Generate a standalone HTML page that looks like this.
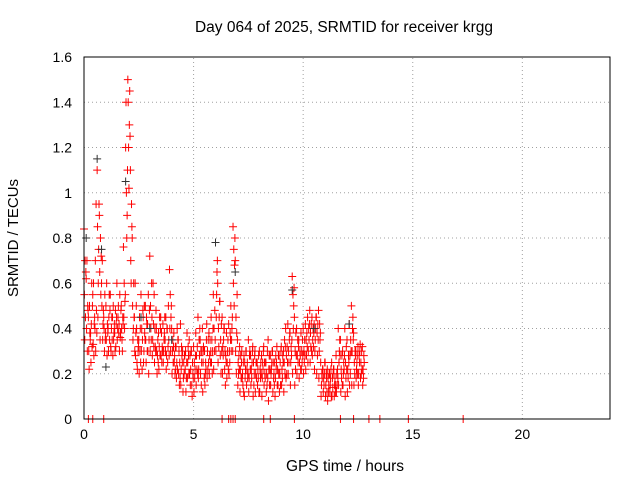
<!DOCTYPE html>
<html><head><meta charset="utf-8"><style>
body{margin:0;background:#fff;}
svg{display:block;font-family:"Liberation Sans",sans-serif;}
</style></head><body>
<svg id="chart" width="640" height="480">
<text x="344" y="32" text-anchor="middle" font-size="15.5">Day 064 of 2025, SRMTID for receiver krgg</text>
<text x="345" y="471" text-anchor="middle" font-size="15.5">GPS time / hours</text>
<text transform="translate(18,238) rotate(-90)" text-anchor="middle" font-size="15">SRMTID / TECUs</text>
<g id="grid"></g><g id="ticks"></g><g id="marks"></g>
<rect x="84" y="57" width="526" height="362" fill="none" stroke="#000"/>
</svg>
<script>
const xTicks=[0,5,10,15,20];
const yTicks=[0,0.2,0.4,0.6,0.8,1,1.2,1.4,1.6];
const yTickLabels=["0","0.2","0.4","0.6","0.8","1","1.2","1.4","1.6"];
const v1=[.84,.62,.45,.38,.55,.40,1.10,.90,.60,.45,.50,.40,.55,.45,.38,.60,.42,.50,.76,1.20,1.50,1.25,.80,.45,.40,.35,.55,.45,.50,.42,.72,.45,.55,.40,.38,.45,.42,.35,.40,.66,.40,.38,.32,.35,.42,.30,.28,.38,.35,.30,.32,.38,.45,.35,.40,.30,.42,.38,.45,.55,.78,.60,.52,.45,.40,.38,.42,.50,.85,.70,.35,.32,.30,.28,.30,.35,.28,.32,.30,.25,.30,.28,.32,.25,.35,.28,.30,.25,.32,.28,.32,.30,.40,.42,.38,.63,.45,.40,.35,.38,.40,.42,.45,.48,.45,.42,.45,.48,.25,.22,.25,.22,.20,.25,.22,.28,.40,.35,.30,.40,.35,.42,.50,.38,.30,.32,.33,.32];
const v2=[.55,.40,.30,.25,.33,.70,.85,.65,.50,.40,.35,.30,.32,.28,.30,.35,.30,.40,.45,1.40,1.40,1.10,.50,.30,.25,.20,.30,.25,.35,.30,.30,.28,.25,.30,.22,.28,.25,.30,.25,.40,.20,.25,.18,.20,.15,.12,.22,.18,.20,.15,.12,.15,.18,.20,.12,.15,.18,.20,.25,.22,.30,.25,.28,.20,.22,.18,.20,.30,.60,.30,.15,.12,.18,.10,.15,.12,.15,.10,.12,.15,.12,.10,.15,.12,.08,.15,.12,.10,.15,.12,.15,.12,.18,.20,.15,.20,.15,.20,.18,.22,.20,.22,.25,.25,.28,.22,.20,.18,.10,.12,.10,.08,.12,.10,.10,.12,.15,.12,.15,.10,.12,.15,.15,.15,.18,.15,.18,.15];
const v3=[.35,.70,.22,.42,.60,.30,.45,.35,.70,.30,.60,.45,.30,.50,.48,.40,.55,.35,.60,1.00,1.20,.70,.35,.60,.22,.45,.40,.30,.25,.55,.50,.35,.40,.20,.32,.38,.30,.45,.32,.55,.30,.28,.25,.30,.22,.18,.30,.25,.28,.10,.25,.28,.22,.30,.25,.20,.30,.28,.35,.40,.45,.40,.35,.32,.30,.25,.30,.35,.75,.45,.25,.22,.20,.25,.22,.18,.22,.25,.20,.22,.22,.18,.25,.20,.22,.20,.25,.18,.22,.20,.22,.25,.28,.30,.25,.55,.30,.28,.25,.30,.30,.35,.30,.38,.35,.30,.38,.30,.15,.18,.15,.18,.15,.18,.15,.20,.25,.22,.20,.25,.22,.28,.30,.25,.22,.20,.25,.22];
const v4=[.70,.30,.50,.60,.28,.95,.60,.80,.35,.55,.28,.55,.40,.35,.32,.45,.36,.30,.40,.80,1.02,.60,.40,.28,.35,.30,.22,.50,.45,.20,.40,.60,.32,.28,.45,.25,.35,.22,.50,.30,.35,.20,.40,.15,.32,.25,.12,.32,.15,.25,.18,.22,.35,.15,.32,.25,.22,.35,.20,.30,.55,.32,.20,.28,.15,.30,.25,.40,.50,.20,.20,.28,.15,.18,.25,.28,.18,.15,.25,.18,.18,.25,.20,.15,.28,.22,.18,.28,.15,.25,.18,.35,.20,.25,.32,.40,.22,.35,.30,.25,.25,.28,.40,.32,.40,.35,.28,.42,.20,.15,.20,.12,.18,.14,.18,.15,.30,.18,.25,.18,.18,.20,.40,.20,.25,.28,.20,.18];
const v5=[.45,.50,.38,.32,.42,.48,.75,.55,.42,.35,.42,.35,.45,.38,.42,.50,.38,.45,.52,.90,1.30,.95,.60,.38,.30,.40,.35,.38,.42,.35,.35,.42,.30,.35,.28,.32,.38,.28,.35,.45,.25,.32,.22,.25,.28,.20,.18,.28,.22,.20,.22,.32,.28,.25,.30,.22,.35,.25,.30,.48,.65,.45,.42,.35,.28,.35,.38,.45,.68,.38,.28,.18,.25,.22,.18,.30,.25,.20,.18,.28,.25,.22,.18,.30,.15,.25,.20,.22,.28,.15,.28,.20,.32,.35,.28,.50,.38,.25,.28,.35,.35,.38,.35,.42,.32,.40,.42,.35,.18,.20,.18,.15,.22,.20,.12,.22,.35,.28,.22,.32,.28,.35,.45,.30,.28,.25,.30,.28];
const v6=[.65,.48,.35,.50,.45,.38,.95,.72,.48,.38,.38,.48,.35,.42,.45,.38,.48,.42,.55,1.10,1.45,.85,.45,.50,.32,.25,.48,.35,.30,.48,.60,.32,.48,.25,.40,.30,.45,.40,.28,.50,.32,.22,.35,.18,.25,.28,.25,.20,.30,.18,.28,.20,.40,.30,.18,.35,.25,.30,.40,.35,.70,.52,.30,.40,.25,.22,.35,.30,.80,.55,.22,.25,.12,.30,.20,.22,.30,.28,.25,.12,.20,.30,.25,.18,.22,.30,.15,.25,.20,.30,.25,.32,.25,.38,.35,.58,.28,.32,.22,.28,.28,.32,.42,.30,.38,.45,.35,.38,.22,.25,.12,.20,.10,.22,.15,.18,.28,.15,.28,.22,.25,.30,.35,.28,.20,.30,.22,.25];
const zeroTimes=[0.2,0.4,0.9,6.3,6.6,6.7,6.8,6.9,8.2,8.5,9.6,11.7,12.3,13.0,13.5,14.8,17.3];
const blackT=[0.1,0.6,0.8,1.0,1.9,2.6,3.0,4.0,6.0,6.9,9.5,10.5,12.1];
const blackV=[0.80,1.15,0.75,0.23,1.05,0.45,0.40,0.35,0.78,0.65,0.57,0.40,0.42];
const X0=84,X1=610,Y0=419,Y1=57,XMAX=24,YMAX=1.6;
const sx=t=>X0+t/XMAX*(X1-X0), sy=v=>Y0-v/YMAX*(Y0-Y1);
const NS="http://www.w3.org/2000/svg";
const grid=document.getElementById('grid'),ticks=document.getElementById('ticks'),marks=document.getElementById('marks');
function mk(tag,attrs,parent){const e=document.createElementNS(NS,tag);for(const k in attrs)e.setAttribute(k,attrs[k]);parent.appendChild(e);return e;}
xTicks.forEach(t=>{const x=sx(t);
 if(t>0){const g=mk('line',{x1:x,x2:x,y1:Y0,y2:Y1,stroke:'#a0a0a0','stroke-dasharray':'1,3'},grid);
 
 }
 const l=mk('text',{x:x,y:Y0+20,'text-anchor':'middle','font-size':14},ticks);l.textContent=t;
 
 });
yTicks.forEach((v,i)=>{const y=sy(v);
 if(v>0&&v<YMAX){const g=mk('line',{x1:X0,x2:X1,y1:y,y2:y,stroke:'#a0a0a0','stroke-dasharray':'1,3'},grid);
 
 }
 const l=mk('text',{x:72,y:y+5,'text-anchor':'end','font-size':14},ticks);l.textContent=yTickLabels[i];
 
 });
function plus(t,v){const x=sx(t),y=sy(v);return `M${x-4},${y}h8M${x},${y-4}v8`;}
let d='';
[v1,v2,v3,v4,v5,v6].forEach((arr,k)=>arr.forEach((v,i)=>{d+=plus(i*0.1+k*0.017,v);}));
zeroTimes.forEach(t=>{d+=plus(t,0);});
let db='';blackT.forEach((t,i)=>{db+=plus(t,blackV[i]);});
const pr=mk('path',{d:d,stroke:'#ff0000','stroke-width':1,fill:'none'},marks);


const pb=mk('path',{d:db,stroke:'#333','stroke-width':1,fill:'none'},marks);


</script>
</body></html>
